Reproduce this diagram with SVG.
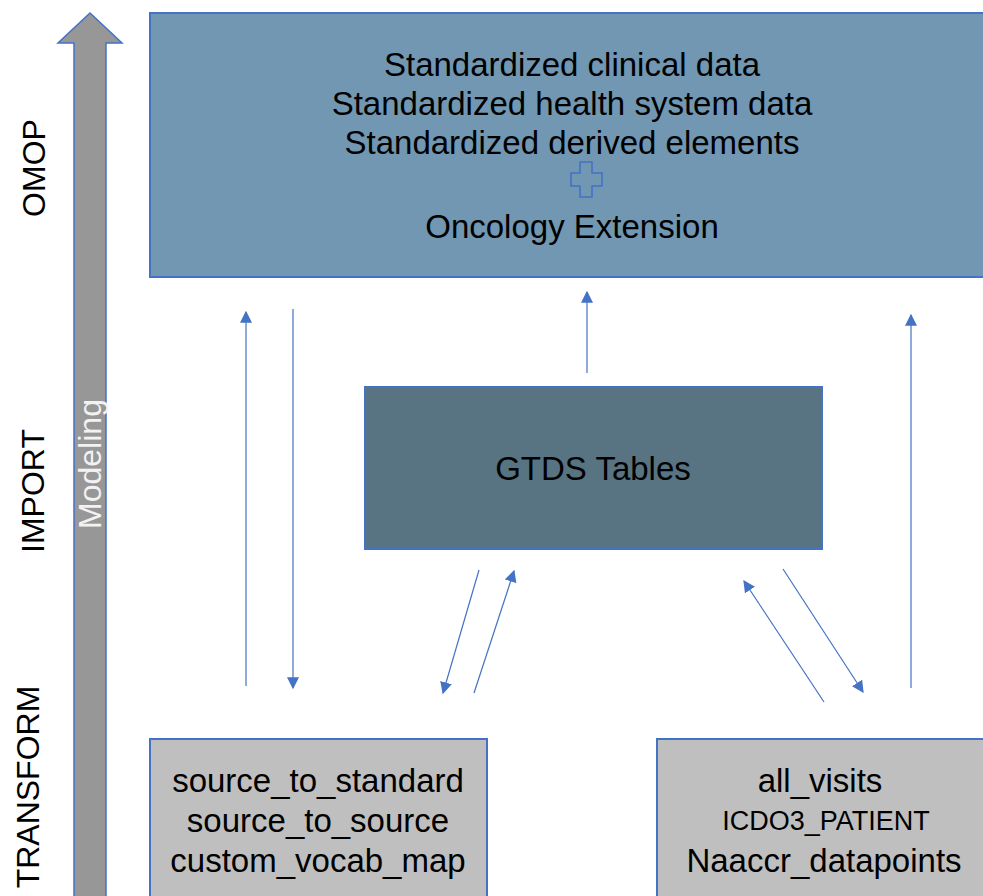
<svg xmlns="http://www.w3.org/2000/svg" width="983" height="896" viewBox="0 0 983 896">
  <style>
    .box { stroke: #4472C4; stroke-width: 2; }
    .t { font-family: "Liberation Sans", Arial, sans-serif; font-size: 33px; fill: #000; text-anchor: middle; }
    .side { font-family: "Liberation Sans", Arial, sans-serif; font-size: 32px; fill: #000; text-anchor: middle; }
    .conn line { stroke: #4472C4; stroke-width: 1.2; fill: none; }
  </style>
  <defs>
    <marker id="tri" viewBox="0 0 10 10" refX="9" refY="5" markerWidth="12" markerHeight="12" markerUnits="userSpaceOnUse" orient="auto">
      <path d="M0,0 L10,5 L0,10 Z" fill="#4472C4"/>
    </marker>
  </defs>
  <rect width="983" height="896" fill="#ffffff"/>

  <!-- Modeling arrow -->
  <g id="modeling">
    <path d="M74,900 L74,43 L58,43 L90,13 L122,43 L106,43 L106,900 Z" fill="#979797" stroke="#4472C4" stroke-width="1.5"/>
    <text class="side" transform="translate(101,464) rotate(-90)" style="fill:#f2f2f2">Modeling</text>
  </g>

  <!-- Layer labels -->
  <g id="layer-labels">
    <text class="side" transform="translate(45,168) rotate(-90)">OMOP</text>
    <text class="side" transform="translate(44,491) rotate(-90)">IMPORT</text>
    <text class="side" transform="translate(39,787) rotate(-90)">TRANSFORM</text>
  </g>

  <!-- OMOP CDM -->
  <g id="omop">
    <rect class="box" x="150" y="13" width="845" height="264" fill="#7197B2"/>
    <text class="t" x="572" y="76">Standardized clinical data</text>
    <text class="t" x="572" y="115">Standardized health system data</text>
    <text class="t" x="572" y="154">Standardized derived elements</text>
    <path d="M580,162 H592 V173 H602 V186 H592 V197 H580 V186 H571 V173 H580 Z" fill="none" stroke="#4472C4" stroke-width="1.6"/>
    <text class="t" x="572" y="238">Oncology Extension</text>
  </g>

  <!-- GTDS -->
  <g id="gtds">
    <rect class="box" x="365" y="387" width="457" height="162" fill="#587482"/>
    <text class="t" x="593" y="480">GTDS Tables</text>
  </g>

  <!-- Vocabulary mapping tables -->
  <g id="vocab">
    <rect class="box" x="150" y="739" width="337" height="170" fill="#BFBFBF"/>
    <text class="t" x="318" y="792">source_to_standard</text>
    <text class="t" x="318" y="832">source_to_source</text>
    <text class="t" x="318" y="872">custom_vocab_map</text>
  </g>

  <!-- Derived tables -->
  <g id="derived">
    <rect class="box" x="657" y="739" width="340" height="170" fill="#BFBFBF"/>
    <text class="t" x="820" y="792">all_visits</text>
    <text class="t" x="826" y="830" style="font-size:27px">ICDO3_PATIENT</text>
    <text class="t" x="824" y="872">Naaccr_datapoints</text>
  </g>

  <!-- Connectors -->
  <g id="connectors" class="conn">
    <line x1="246" y1="686" x2="246" y2="312" marker-end="url(#tri)"/>
    <line x1="293" y1="309" x2="293" y2="688" marker-end="url(#tri)"/>
    <line x1="587" y1="373" x2="587" y2="292" marker-end="url(#tri)"/>
    <line x1="911" y1="688" x2="911" y2="315" marker-end="url(#tri)"/>
    <line x1="479" y1="570" x2="443" y2="693" marker-end="url(#tri)"/>
    <line x1="474" y1="693" x2="514" y2="571" marker-end="url(#tri)"/>
    <line x1="824" y1="702" x2="744" y2="581" marker-end="url(#tri)"/>
    <line x1="783" y1="569" x2="863" y2="692" marker-end="url(#tri)"/>
  </g>
</svg>
